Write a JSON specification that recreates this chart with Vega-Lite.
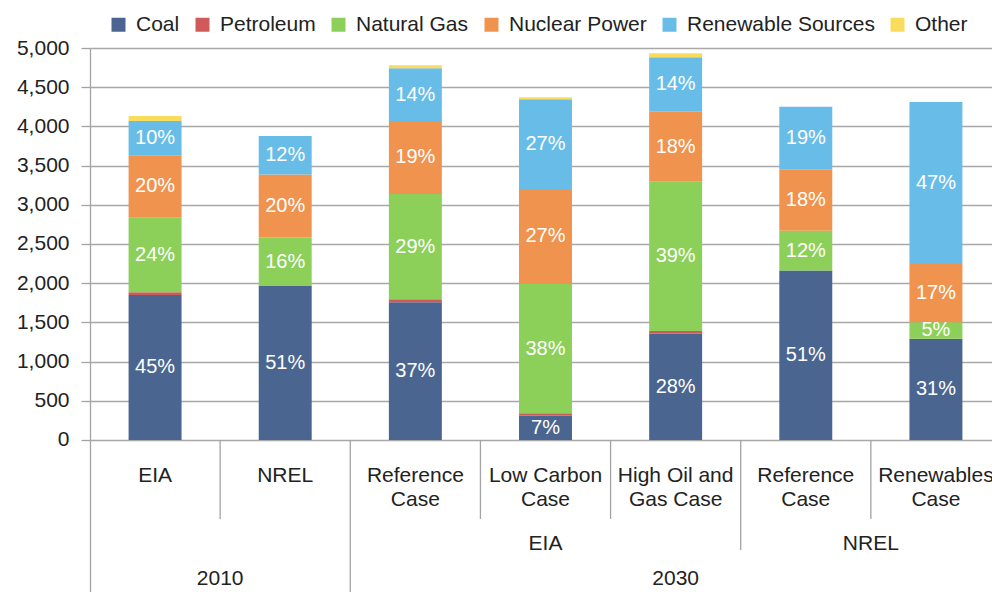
{
  "$schema": "https://vega.github.io/schema/vega-lite/v6.json",
  "autosize": {"type": "none"},
  "width": 902,
  "height": 544,
  "padding": {"left": 90, "top": 48, "right": 0, "bottom": 0},
  "config": {"view": {"stroke": null}, "font": "Liberation Sans", "text": {"font": "Liberation Sans"}},
  "datasets": {
    "gen": [
      {"id": "EIA 2010", "source": "Coal", "value": 1850, "pct": "45%"},
      {"id": "EIA 2010", "source": "Petroleum", "value": 35, "pct": null},
      {"id": "EIA 2010", "source": "Natural Gas", "value": 950, "pct": "24%"},
      {"id": "EIA 2010", "source": "Nuclear Power", "value": 798, "pct": "20%"},
      {"id": "EIA 2010", "source": "Renewable Sources", "value": 437, "pct": "10%"},
      {"id": "EIA 2010", "source": "Other", "value": 62, "pct": null},
      {"id": "NREL 2010", "source": "Coal", "value": 1969, "pct": "51%"},
      {"id": "NREL 2010", "source": "Natural Gas", "value": 612, "pct": "16%"},
      {"id": "NREL 2010", "source": "Nuclear Power", "value": 805, "pct": "20%"},
      {"id": "NREL 2010", "source": "Renewable Sources", "value": 492, "pct": "12%"},
      {"id": "EIA Ref 2030", "source": "Coal", "value": 1756, "pct": "37%"},
      {"id": "EIA Ref 2030", "source": "Petroleum", "value": 39, "pct": null},
      {"id": "EIA Ref 2030", "source": "Natural Gas", "value": 1343, "pct": "29%"},
      {"id": "EIA Ref 2030", "source": "Nuclear Power", "value": 931, "pct": "19%"},
      {"id": "EIA Ref 2030", "source": "Renewable Sources", "value": 672, "pct": "14%"},
      {"id": "EIA Ref 2030", "source": "Other", "value": 38, "pct": null},
      {"id": "EIA LowC 2030", "source": "Coal", "value": 310, "pct": "7%"},
      {"id": "EIA LowC 2030", "source": "Petroleum", "value": 30, "pct": null},
      {"id": "EIA LowC 2030", "source": "Natural Gas", "value": 1650, "pct": "38%"},
      {"id": "EIA LowC 2030", "source": "Nuclear Power", "value": 1212, "pct": "27%"},
      {"id": "EIA LowC 2030", "source": "Renewable Sources", "value": 1144, "pct": "27%"},
      {"id": "EIA LowC 2030", "source": "Other", "value": 25, "pct": null},
      {"id": "EIA HighOG 2030", "source": "Coal", "value": 1356, "pct": "28%"},
      {"id": "EIA HighOG 2030", "source": "Petroleum", "value": 34, "pct": null},
      {"id": "EIA HighOG 2030", "source": "Natural Gas", "value": 1905, "pct": "39%"},
      {"id": "EIA HighOG 2030", "source": "Nuclear Power", "value": 893, "pct": "18%"},
      {"id": "EIA HighOG 2030", "source": "Renewable Sources", "value": 693, "pct": "14%"},
      {"id": "EIA HighOG 2030", "source": "Other", "value": 51, "pct": null},
      {"id": "NREL Ref 2030", "source": "Coal", "value": 2160, "pct": "51%"},
      {"id": "NREL Ref 2030", "source": "Natural Gas", "value": 510, "pct": "12%"},
      {"id": "NREL Ref 2030", "source": "Nuclear Power", "value": 783, "pct": "18%"},
      {"id": "NREL Ref 2030", "source": "Renewable Sources", "value": 799, "pct": "19%"},
      {"id": "NREL Ren 2030", "source": "Coal", "value": 1292, "pct": "31%"},
      {"id": "NREL Ren 2030", "source": "Natural Gas", "value": 209, "pct": "5%"},
      {"id": "NREL Ren 2030", "source": "Nuclear Power", "value": 744, "pct": "17%"},
      {"id": "NREL Ren 2030", "source": "Renewable Sources", "value": 2066, "pct": "47%"}
    ],
    "cats": [
      {"id": "EIA 2010", "label": "EIA"},
      {"id": "NREL 2010", "label": "NREL"},
      {"id": "EIA Ref 2030", "label": "Reference\nCase"},
      {"id": "EIA LowC 2030", "label": "Low Carbon\nCase"},
      {"id": "EIA HighOG 2030", "label": "High Oil and\nGas Case"},
      {"id": "NREL Ref 2030", "label": "Reference\nCase"},
      {"id": "NREL Ren 2030", "label": "Renewables\nCase"}
    ],
    "groups": [
      {"id": "EIA LowC 2030", "label": "EIA", "level": "source", "at": "center"},
      {"id": "NREL Ren 2030", "label": "NREL", "level": "source", "at": "edge"},
      {"id": "EIA HighOG 2030", "label": "2030", "level": "year", "at": "center"},
      {"id": "NREL 2010", "label": "2010", "level": "year", "at": "edge"}
    ],
    "dividers": [
      {"id": "NREL 2010", "len": "short"},
      {"id": "EIA LowC 2030", "len": "short"},
      {"id": "EIA HighOG 2030", "len": "short"},
      {"id": "NREL Ren 2030", "len": "short"},
      {"id": "NREL Ref 2030", "len": "medium"},
      {"id": "EIA Ref 2030", "len": "long"}
    ]
  },
  "layer": [
    {
      "data": {"name": "gen"},
      "transform": [
        {"calculate": "datum.source == 'Coal' ? 0 : datum.source == 'Petroleum' ? 1 : datum.source == 'Natural Gas' ? 2 : datum.source == 'Nuclear Power' ? 3 : datum.source == 'Renewable Sources' ? 4 : 5", "as": "ord"},
        {"stack": "value", "groupby": ["id"], "sort": [{"field": "ord", "order": "ascending"}], "as": ["y0", "y1"]},
        {"calculate": "(datum.y0 + datum.y1) / 2", "as": "ymid"}
      ],
      "layer": [
        {
          "mark": {"type": "bar", "width": {"band": 0.407}},
          "encoding": {
            "x": {
              "field": "id", "type": "nominal",
              "scale": {
                "domain": ["EIA 2010", "NREL 2010", "EIA Ref 2030", "EIA LowC 2030", "EIA HighOG 2030", "NREL Ref 2030", "NREL Ren 2030"],
                "range": [0, 911],
                "paddingInner": 0, "paddingOuter": 0
              },
              "axis": null
            },
            "y": {
              "field": "y0", "type": "quantitative",
              "scale": {"domain": [-1940, 5000], "nice": false, "zero": false},
              "axis": {
                "title": null,
                "values": [0, 500, 1000, 1500, 2000, 2500, 3000, 3500, 4000, 4500, 5000],
                "format": ",.0f",
                "labelFontSize": 21,
                "labelColor": "#222222",
                "labelFont": "Liberation Sans",
                "labelPadding": 12,
                "tickSize": 9,
                "tickColor": "#a3a3a3",
                "tickWidth": 1.3,
                "domainColor": "#a3a3a3",
                "domainWidth": 1.3,
                "grid": true,
                "gridColor": "#a8a8a8",
                "gridWidth": 1.3
              }
            },
            "y2": {"field": "y1"},
            "color": {
              "field": "source", "type": "nominal",
              "scale": {
                "domain": ["Coal", "Petroleum", "Natural Gas", "Nuclear Power", "Renewable Sources", "Other"],
                "range": ["#4a6690", "#d05a5a", "#8cd05a", "#ef934e", "#68bde8", "#f9dc5c"]
              },
              "legend": {
                "title": null,
                "orient": "none",
                "legendX": 18,
                "legendY": -34,
                "direction": "horizontal",
                "symbolType": "square",
                "symbolSize": 196,
                "symbolStrokeWidth": 0,
                "symbolOpacity": 1,
                "labelFontSize": 21,
                "labelFont": "Liberation Sans",
                "labelColor": "#222222",
                "labelLimit": 400,
                "labelOffset": 7,
                "columnPadding": 12,
                "padding": 0
              }
            }
          }
        },
        {
          "transform": [{"filter": "datum.pct != null"}],
          "mark": {"type": "text", "color": "white", "fontSize": 20, "baseline": "middle", "align": "center"},
          "encoding": {
            "x": {"field": "id", "type": "nominal"},
            "y": {"field": "ymid", "type": "quantitative"},
            "text": {"field": "pct", "type": "nominal"}
          }
        }
      ]
    },
    {
      "data": {"name": "dividers"},
      "transform": [{"filter": "datum.len == 'short'"}],
      "mark": {"type": "rule", "color": "#a3a3a3", "strokeWidth": 1.3},
      "encoding": {
        "x": {"field": "id", "type": "nominal", "bandPosition": 0},
        "y": {"datum": 0, "type": "quantitative"},
        "y2": {"datum": -1009}
      }
    },
    {
      "data": {"name": "dividers"},
      "transform": [{"filter": "datum.len == 'medium'"}],
      "mark": {"type": "rule", "color": "#a3a3a3", "strokeWidth": 1.3},
      "encoding": {
        "x": {"field": "id", "type": "nominal", "bandPosition": 0},
        "y": {"datum": 0, "type": "quantitative"},
        "y2": {"datum": -1404}
      }
    },
    {
      "data": {"name": "dividers"},
      "transform": [{"filter": "datum.len == 'long'"}],
      "mark": {"type": "rule", "color": "#a3a3a3", "strokeWidth": 1.3},
      "encoding": {
        "x": {"field": "id", "type": "nominal", "bandPosition": 0},
        "y": {"datum": 0, "type": "quantitative"},
        "y2": {"datum": -1940}
      }
    },
    {
      "data": {"name": "cats"},
      "mark": {"type": "text", "fontSize": 21, "lineBreak": "\n", "lineHeight": 24, "baseline": "alphabetic", "align": "center", "color": "#222222"},
      "encoding": {
        "x": {"field": "id", "type": "nominal"},
        "y": {"datum": -537, "type": "quantitative"},
        "text": {"field": "label", "type": "nominal"}
      }
    },
    {
      "data": {"name": "groups"},
      "transform": [{"filter": "datum.level == 'source' && datum.at == 'center'"}],
      "mark": {"type": "text", "fontSize": 21, "baseline": "alphabetic", "align": "center", "color": "#222222"},
      "encoding": {
        "x": {"field": "id", "type": "nominal"},
        "y": {"datum": -1404, "type": "quantitative"},
        "text": {"field": "label", "type": "nominal"}
      }
    },
    {
      "data": {"name": "groups"},
      "transform": [{"filter": "datum.level == 'source' && datum.at == 'edge'"}],
      "mark": {"type": "text", "fontSize": 21, "baseline": "alphabetic", "align": "center", "color": "#222222"},
      "encoding": {
        "x": {"field": "id", "type": "nominal", "bandPosition": 0},
        "y": {"datum": -1404, "type": "quantitative"},
        "text": {"field": "label", "type": "nominal"}
      }
    },
    {
      "data": {"name": "groups"},
      "transform": [{"filter": "datum.level == 'year' && datum.at == 'center'"}],
      "mark": {"type": "text", "fontSize": 21, "baseline": "alphabetic", "align": "center", "color": "#222222"},
      "encoding": {
        "x": {"field": "id", "type": "nominal"},
        "y": {"datum": -1851, "type": "quantitative"},
        "text": {"field": "label", "type": "nominal"}
      }
    },
    {
      "data": {"name": "groups"},
      "transform": [{"filter": "datum.level == 'year' && datum.at == 'edge'"}],
      "mark": {"type": "text", "fontSize": 21, "baseline": "alphabetic", "align": "center", "color": "#222222"},
      "encoding": {
        "x": {"field": "id", "type": "nominal", "bandPosition": 0},
        "y": {"datum": -1851, "type": "quantitative"},
        "text": {"field": "label", "type": "nominal"}
      }
    }
  ]
}
